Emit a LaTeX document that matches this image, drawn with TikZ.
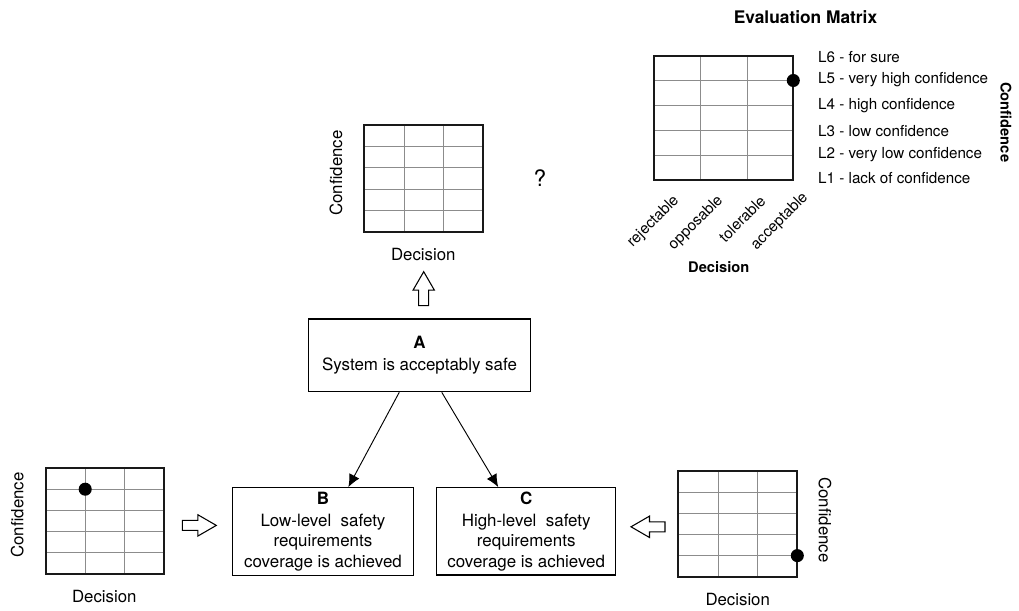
\documentclass[tikz,border=0pt]{standalone}
\usepackage{fontspec}
\setmainfont{TeX Gyre Heros}
\usepackage{tikz}
\usetikzlibrary{arrows.meta}
\usetikzlibrary{calc}
\def\confgrid[#1](#2,#3)(#4,#5){%
  \foreach \i in {1,2} {\draw[gridline] ({#2+\i*#4/3},#3) -- ({#2+\i*#4/3},{#3+#5});}
  \foreach \j in {1,...,4} {\draw[gridline] (#2,{#3+\j*#5/5}) -- ({#2+#4},{#3+\j*#5/5});}
  \draw[gridframe,#1] (#2,#3) rectangle ({#2+#4},{#3+#5})}

\begin{document}
\begin{tikzpicture}[x=0.75pt,y=-0.75pt,
    gridline/.style={draw=black!45,line width=0.6pt},
    gridframe/.style={draw=black!90,line width=1.3pt},
    lbl/.style={font=\fontsize{12.6}{15}\selectfont},
    lvl/.style={font=\fontsize{11.4}{14}\selectfont,anchor=west},
    ax/.style={font=\fontsize{11}{13}\selectfont\bfseries},
    goal/.style={draw,line width=0.9pt,align=center,inner sep=0pt,font=\fontsize{12.7}{15.5}\selectfont},
    conn/.style={-{Latex[length=9.5pt,width=8.5pt]},line width=0.7pt},
    hollow arrow/.pic={\draw[line width=0.8pt,fill=white] (0,-5) -- (15.5,-5) -- (15.5,-10.7) -- (34,0) -- (15.5,10.7) -- (15.5,5) -- (0,5) -- cycle;}]
        \useasboundingbox (0,0) rectangle (1019,610);

        %%% EVALUATION MATRIX %%%
        \node[font=\fontsize{13}{15}\selectfont\bfseries] (evaltitle) at (805.5,16.7) {Evaluation Matrix};
        \confgrid[](654.3,55.7)(139,124);
        \fill (793.3,80.5) coordinate (evaldot) circle[radius=4.9pt];
        \node[lvl] (l6) at (813.5,57.3) {L6 - for sure};
        \node[lvl] (l5) at (813.5,80) {L5 - very high confidence};
        \node[lvl] (l4) at (813.5,106) {L4 - high confidence};
        \node[lvl] (l3) at (813.5,131) {L3 - low confidence};
        \node[lvl] (l2) at (813.5,155) {L2 - very low confidence};
        \node[lvl] (l1) at (813.5,177.7) {L1 - lack of confidence};
        \node[ax,rotate=-90] (evalconf) at (1006,122.3) {Confidence};
        \node[lvl,rotate=45,anchor=east] (rej) at (680,195) {rejectable};
        \node[lvl,rotate=45,anchor=east] (opp) at (724,195) {opposable};
        \node[lvl,rotate=45,anchor=east] (tol) at (766,195) {tolerable};
        \node[lvl,rotate=45,anchor=east] (acc) at (809,192) {acceptable};
        \node[ax] (evaldec) at (718.8,267.3) {Decision};

        %%% TOP MATRIX %%%
        \confgrid[](364.3,125.3)(119,106.4);
        \node[lbl,rotate=90] (topconf) at (336,173) {Confidence};
        \node[lbl] (topdec) at (423.3,254) {Decision};
        \node[font=\fontsize{17}{20}\selectfont] (quest) at (540,178) {?};
        \pic[rotate=90] at (423.7,305.7) {hollow arrow};

        %%% GOALS %%%
        \node[goal,minimum width=166.8pt,minimum height=54.5pt] (A) at (419.5,355.4)
            {\textbf{A}\\[1pt]System is acceptably safe};
        \node[goal,minimum width=135.5pt,minimum height=65.7pt] (B) at (323,531.5)
            {\textbf{B}\\[1pt]Low-level\ \ safety\\requirements\\coverage is achieved};
        \node[goal,minimum width=134.3pt,minimum height=65.5pt] (C) at (526.2,531.3)
            {\textbf{C}\\[1pt]High-level\ \ safety\\requirements\\coverage is achieved};
        \draw[conn] ([xshift=-15.2pt]A.south) -- ([xshift=19pt]B.north);
        \draw[conn] ([xshift=16.7pt]A.south) -- ([xshift=-21pt]C.north);

        %%% BOTTOM LEFT MATRIX %%%
        \confgrid[](45.7,468)(118.6,106);
        \fill (85.2,489.2) coordinate (bldot) circle[radius=4.9pt];
        \node[lbl,rotate=90] (blconf) at (17.3,515) {Confidence};
        \node[lbl] (bldec) at (104.3,596.7) {Decision};
        \pic at (182.3,525.4) {hollow arrow};

        %%% BOTTOM RIGHT MATRIX %%%
        \confgrid[](678.3,471.3)(119,105.4);
        \fill (797.3,555.6) coordinate (brdot) circle[radius=4.9pt];
        \node[lbl,rotate=-90] (brconf) at (825,520) {Confidence};
        \node[lbl] (brdec) at (737.7,599.3) {Decision};
        \pic[rotate=180] at (665,526.8) {hollow arrow};
    \end{tikzpicture}
\end{document}
